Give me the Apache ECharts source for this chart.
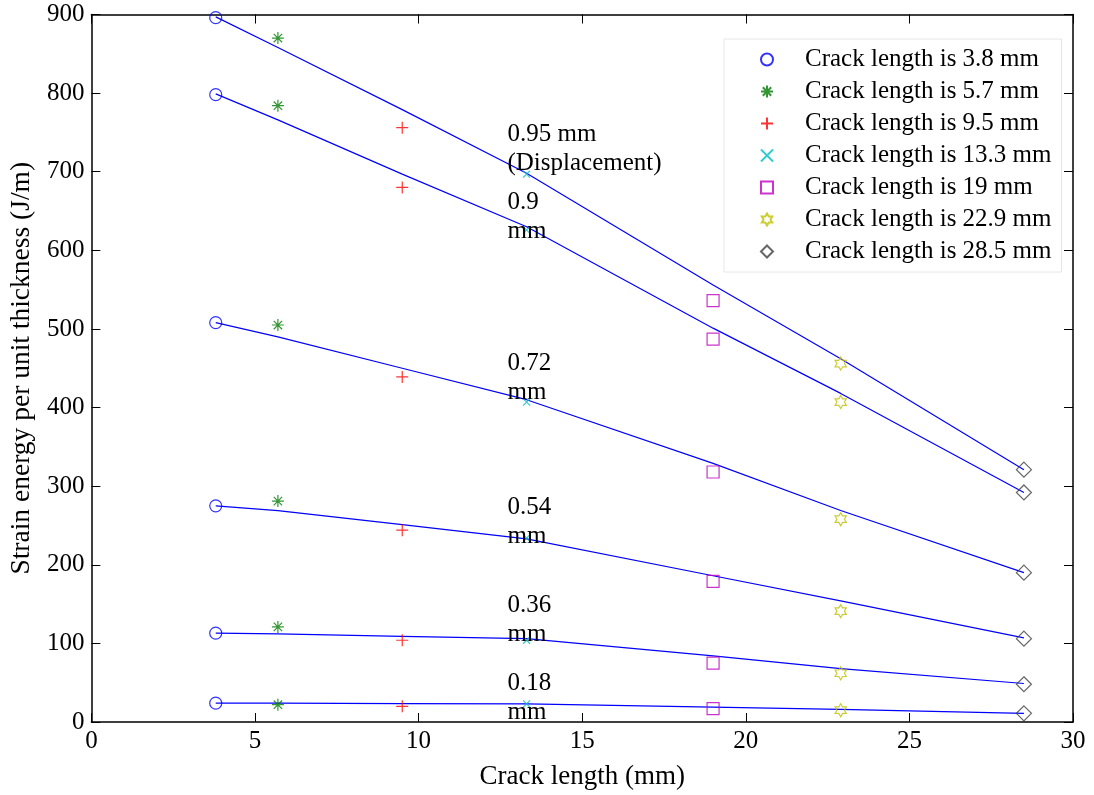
<!DOCTYPE html>
<html>
<head>
<meta charset="utf-8">
<script src="https://cdn.jsdelivr.net/npm/echarts@6/dist/echarts.min.js"></script>
<style>html,body{margin:0;padding:0;background:#fff;}#c{width:1094px;height:795px;}</style>
</head>
<body>
<div id="c"></div>
<script>
// Crack lengths (x positions, mm)
const crackX = [3.8, 5.7, 9.5, 13.3, 19, 22.9, 28.5];
// Displacement levels (top to bottom)
const displacements = ['0.95', '0.9', '0.72', '0.54', '0.36', '0.18'];

// Measured points: one array per crack length, values for displacements 0.95,0.9,0.72,0.54,0.36,0.18
const crack38 = [896, 798, 508, 275, 113, 24];
const crack57 = [870, 784, 505, 281, 121, 22];
const crack95 = [756, 680, 439, 244, 104, 20];
const crack133 = [697, 626, 407, 234, 104, 23];
const crack19 = [536, 487, 318, 179, 75, 17];
const crack229 = [456, 407, 258, 141, 62, 15];
const crack285 = [321, 292, 190, 106, 48, 11];

// Fitted curves (values at crackX) per displacement
const fit095 = [897, 858, 779, 698, 556, 462, 321];
const fit090 = [799, 766, 697, 630, 501, 418, 292];
const fit072 = [508, 490, 450, 410, 329, 269, 190];
const fit054 = [275, 269, 251, 233, 186, 154, 107];
const fit036 = [113, 112, 109, 106, 84, 68, 49];
const fit018 = [24, 24, 23.5, 23, 19, 16, 11];

// Annotation labels: [x, y, text]
const annoX = [12.7, 12.7, 12.7, 12.7, 12.7, 12.7];
const annoY = [729, 642, 438, 254, 130, 31];
const annoText = ['0.95 mm\n(Displacement)', '0.9\nmm', '0.72\nmm', '0.54\nmm', '0.36\nmm', '0.18\nmm'];

const legendNames = ['Crack length is 3.8 mm','Crack length is 5.7 mm','Crack length is 9.5 mm','Crack length is 13.3 mm','Crack length is 19 mm','Crack length is 22.9 mm','Crack length is 28.5 mm'];

const FONT = "'Liberation Serif','Times New Roman',serif";

const SYM_ASTER = 'path://M0,-10L0,10M-10,0L10,0M-7,-7L7,7M-7,7L7,-7';
const SYM_PLUS = 'path://M0,-10L0,10M-10,0L10,0';
const SYM_X = 'path://M-10,-10L10,10M-10,10L10,-10';
const SYM_HEX = 'path://M0,-1L0.289,-0.5L0.866,-0.5L0.577,0L0.866,0.5L0.289,0.5L0,1L-0.289,0.5L-0.866,0.5L-0.577,0L-0.866,-0.5L-0.289,-0.5Z';

const markerDefs = [
  {data: crack38, x: crackX[0], symbol: 'circle', size: 12, color: '#0000ff'},
  {data: crack57, x: crackX[1], symbol: SYM_ASTER, size: 12, color: '#007a00'},
  {data: crack95, x: crackX[2], symbol: SYM_PLUS, size: 12, color: '#ff0000'},
  {data: crack133, x: crackX[3], symbol: SYM_X, size: 7, color: '#00bfbf'},
  {data: crack19, x: crackX[4], symbol: 'rect', size: 12, color: '#bf00bf'},
  {data: crack229, x: crackX[5], symbol: SYM_HEX, size: 13, color: '#bfbf00'},
  {data: crack285, x: crackX[6], symbol: 'diamond', size: 15, color: '#404040'}
];

const fits = [fit095, fit090, fit072, fit054, fit036, fit018];

const series = [];
fits.forEach((f, i) => {
  series.push({
    type: 'line', name: 'fit ' + displacements[i], silent: true,
    data: crackX.map((x, j) => [x, f[j]]),
    symbol: 'none', lineStyle: {color: '#0000ff', width: 1.2}, z: 2, animation: false
  });
});
markerDefs.forEach((m, i) => {
  series.push({
    type: 'scatter', name: legendNames[i],
    data: m.data.map(v => [m.x, v]),
    symbol: m.symbol, symbolSize: m.size, symbolKeepAspect: true,
    itemStyle: {color: 'transparent', borderColor: m.color, borderWidth: 1.2},
    z: 3, animation: false
  });
});
const annoLabel = {show: true, position: 'right', distance: 0, color: '#000000', opacity: 1, textBorderWidth: 0, fontFamily: FONT, fontSize: 25, lineHeight: 29, align: 'left'};
series.push({
  type: 'scatter', name: 'annotations', silent: true,
  data: annoX.map((x, i) => ({value: [x, annoY[i]], label: Object.assign({}, annoLabel, {formatter: annoText[i]})})),
  symbol: 'circle', symbolSize: 1, itemStyle: {color: '#000', opacity: 0},
  label: annoLabel,
  z: 4, animation: false
});

const axisCommon = {
  axisLine: {show: true, onZero: false, lineStyle: {color: '#000', width: 1.5}},
  axisTick: {show: true, inside: true, length: 9, lineStyle: {color: '#000', width: 1}},
  splitLine: {show: false}
};

const option = {
  backgroundColor: '#fff',
  animation: false,
  grid: {left: 88.5, right: 21, top: 14.5, bottom: 67, containLabel: false},
  legend: {
    data: legendNames.map(n => ({name: n})),
    orient: 'vertical', left: 724, top: 39,
    itemWidth: 12, itemHeight: 12, itemGap: 7,
    padding: [8, 10, 8, 36],
    backgroundColor: '#fff', borderColor: '#e6e6e6', borderWidth: 1,
    textStyle: {fontFamily: FONT, fontSize: 25, color: '#000', lineHeight: 25, padding: [0, 0, 0, 27]},
    selectedMode: false
  },
  xAxis: [
    Object.assign({}, axisCommon, {
      type: 'value', position: 'bottom', min: 0, max: 30, interval: 5,
      name: 'Crack length (mm)', nameLocation: 'middle', nameGap: 41,
      nameTextStyle: {fontFamily: FONT, fontSize: 27, color: '#000'},
      axisLabel: {show: true, fontFamily: FONT, fontSize: 25, color: '#000', margin: 7}
    }),
    Object.assign({}, axisCommon, {
      type: 'value', position: 'top', min: 0, max: 30, interval: 5,
      axisLabel: {show: false}
    })
  ],
  yAxis: [
    Object.assign({}, axisCommon, {
      type: 'value', position: 'left', min: 0, max: 900, interval: 100,
      name: 'Strain energy per unit thickness (J/m)', nameLocation: 'middle', nameGap: 55,
      nameTextStyle: {fontFamily: FONT, fontSize: 27.5, color: '#000'},
      axisLabel: {show: true, fontFamily: FONT, fontSize: 25, color: '#000', margin: 7}
    }),
    Object.assign({}, axisCommon, {
      type: 'value', position: 'right', min: 0, max: 900, interval: 100,
      axisLabel: {show: false}
    })
  ],
  series: series
};

const chart = echarts.init(document.getElementById('c'), null, {renderer: 'canvas'});
chart.setOption(option);
</script>
</body>
</html>
